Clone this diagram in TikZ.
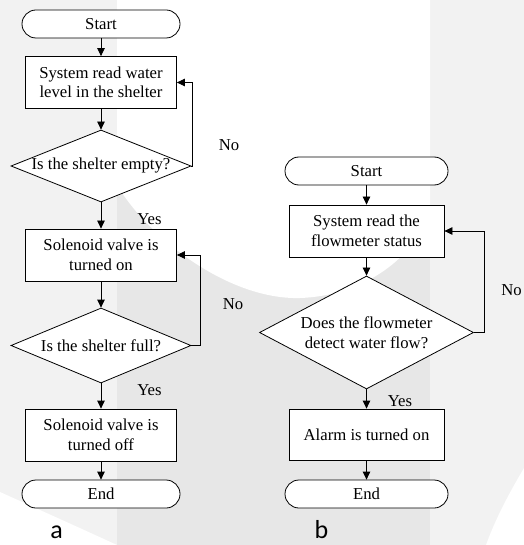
\documentclass[tikz,border=0pt]{standalone}
\usepackage{fontspec}
\setmainfont{Liberation Serif}
\newfontfamily\labelfont{Carlito}
\usetikzlibrary{shapes.geometric,arrows.meta}
\definecolor{bglight}{HTML}{F2F2F2}
\definecolor{bgband}{HTML}{E7E7E7}
\tikzset{
  basebox/.style={draw=black, line width=0.8bp, fill=white, font=\fontsize{16.7bp}{19.5bp}\selectfont, align=center, inner sep=0pt},
  term/.style={basebox, rectangle, rounded corners=14bp, minimum height=28bp},
  proc/.style={basebox, rectangle, minimum height=52bp},
  dec/.style={basebox, diamond, aspect=2.5},
  arr/.style={line width=0.8bp, -{Triangle[length=8bp,width=7.5bp]}},
  lbl/.style={font=\fontsize{16.7bp}{19.5bp}\selectfont, inner sep=0pt},
  tag/.style={font=\labelfont\fontsize{26bp}{28bp}\selectfont, inner sep=0pt, anchor=base}
}
\begin{document}
\begin{tikzpicture}[x=1bp,y=-1bp]
\useasboundingbox (0,0) rectangle (524,545);
% background watermark
\fill[bglight] (0,0) rectangle (524,545);
\fill[bgband] (117,0) rectangle (430,545);
\fill[white] (117,0) -- (117,185) .. controls (150,240) and (230,300) .. (300,298)
   .. controls (360,296) and (410,262) .. (430,215) -- (430,0) -- cycle;
\fill[white] (0,492) .. controls (40,510) and (80,528) .. (117,545) -- (0,545) -- cycle;
\fill[white] (524,468) .. controls (508,495) and (495,520) .. (486,545) -- (524,545) -- cycle;

% flowchart a
\node[term, minimum width=158bp] (sA) at (101,24) {Start};
\node[proc, minimum width=151bp] (pA1) at (101,82.5) {System read water\\level in the shelter};
\node[dec, minimum width=180bp, minimum height=72bp] (dA1) at (101,166) {Is the shelter empty?};
\node[proc, minimum width=151bp] (pA2) at (101,255) {Solenoid valve is\\turned on};
\node[dec, minimum width=180bp, minimum height=75bp] (dA2) at (101,345.5) {Is the shelter full?};
\node[proc, minimum width=151bp] (pA3) at (101,435) {Solenoid valve is\\turned off};
\node[term, minimum width=158bp] (eA) at (101,494) {End};

\draw[arr] (sA) -- (pA1);
\draw[arr] (pA1) -- (dA1);
\draw[arr] (dA1) -- (pA2);
\draw[arr] (dA1.east) -- ++(1,0) |- (pA1.east);
\draw[arr] (pA2) -- (dA2);
\draw[arr] (dA2) -- (pA3);
\draw[arr] (dA2.east) -- ++(9,0) |- (pA2.east);
\draw[arr] (pA3) -- (eA);

\node[lbl] (noA1) at (229,145) {No};
\node[lbl] (yesA1) at (149.5,219) {Yes};
\node[lbl] (noA2) at (233,304) {No};
\node[lbl] (yesA2) at (149.5,390) {Yes};

% flowchart b
\node[term, minimum width=163bp] (sB) at (366.5,171) {Start};
\node[proc, minimum width=155bp] (pB1) at (366.5,231) {System read the\\flowmeter status};
\node[dec, minimum width=214bp, minimum height=113bp] (dB) at (366.5,332.5) {Does the flowmeter\\detect water flow?};
\node[proc, minimum width=155bp, minimum height=51bp] (pB2) at (366.5,434.5) {Alarm is turned on};
\node[term, minimum width=163bp] (eB) at (366.5,494) {End};

\draw[arr] (sB) -- (pB1);
\draw[arr] (pB1) -- (dB);
\draw[arr] (dB) -- (pB2);
\draw[arr] (dB.east) -- ++(10,0) |- (pB1.east);
\draw[arr] (pB2) -- (eB);

\node[lbl, anchor=east] (noB) at (522,290) {No};
\node[lbl] (yesB) at (400,401) {Yes};

\node[tag] (ta) at (56.5,538) {a};
\node[tag] (tb) at (321.5,538) {b};
\end{tikzpicture}
\end{document}
